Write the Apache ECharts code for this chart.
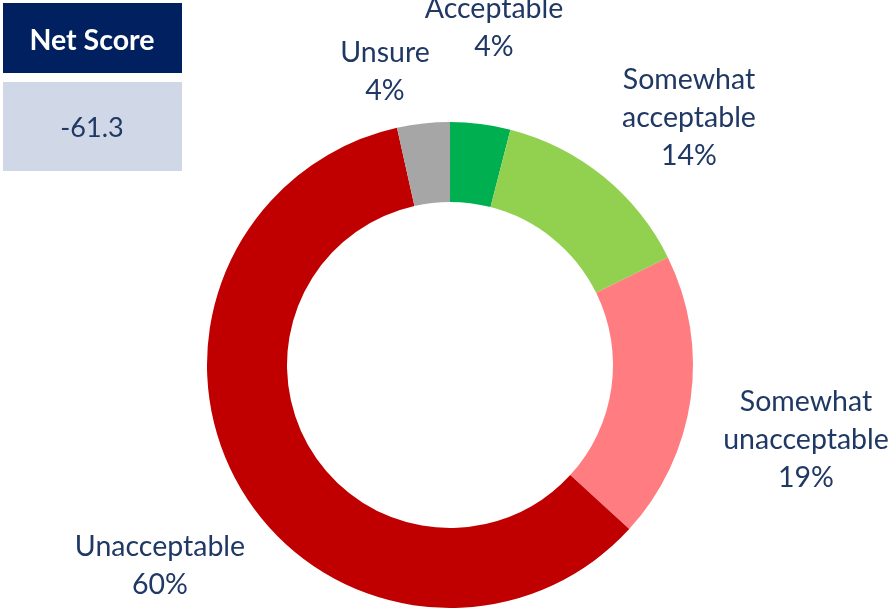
<!DOCTYPE html>
<html><head><meta charset="utf-8">
<script src="https://cdn.jsdelivr.net/npm/echarts@6/dist/echarts.min.js"></script>
<style>html,body{margin:0;padding:0;background:#fff}#c{width:895px;height:609px}</style>
</head><body><div id="c"></div>
<script>
// Data
var categories = ['Acceptable', 'Somewhat\nacceptable', 'Somewhat\nunacceptable', 'Unacceptable', 'Unsure'];
var values = [4.0, 13.7, 19.1, 59.7, 3.5];
var netScore = '-61.3';

// Styles / layout
var colors = ['#00B050', '#92D050', '#FF7C80', '#C00000', '#A6A6A6'];
var labelPos = [[494, 28], [689, 118], [806, 440], [160, 566], [385, 72]];
var FONT = 'Lato, "Noto Sans", sans-serif';

var chart = echarts.init(document.getElementById('c'));
chart.setOption({
  animation: false,
  backgroundColor: '#fff',
  graphic: [
    {type: 'rect', shape: {x: 3, y: 3, width: 179, height: 70}, style: {fill: '#002060'}},
    {type: 'text', x: 92, y: 41, style: {text: 'Net Score', fill: '#fff', font: 'bold 28.5px ' + FONT, align: 'center', verticalAlign: 'middle'}},
    {type: 'rect', shape: {x: 3, y: 82, width: 179, height: 89}, style: {fill: '#D0D8E7'}},
    {type: 'text', x: 92, y: 128, style: {text: netScore, fill: '#1F3864', font: '27px ' + FONT, align: 'center', verticalAlign: 'middle'}}
  ],
  series: [{
    type: 'pie',
    center: [450, 365],
    radius: [163, 243],
    startAngle: 90,
    clockwise: true,
    avoidLabelOverlap: false,
    itemStyle: {borderWidth: 0},
    label: {
      show: true,
      position: 'outside',
      color: '#1F3864',
      fontFamily: FONT,
      fontSize: 28.5,
      lineHeight: 38,
      align: 'center',
      formatter: function (p) { return p.name + '\n' + Math.round(p.value) + '%'; }
    },
    labelLine: {show: false},
    labelLayout: function (p) {
      var pos = labelPos[p.dataIndex];
      return {x: pos[0], y: pos[1], align: 'center', verticalAlign: 'middle'};
    },
    emphasis: {disabled: true},
    data: categories.map(function (c, i) {
      return {name: c, value: values[i], itemStyle: {color: colors[i]}};
    })
  }]
});
</script></body></html>
